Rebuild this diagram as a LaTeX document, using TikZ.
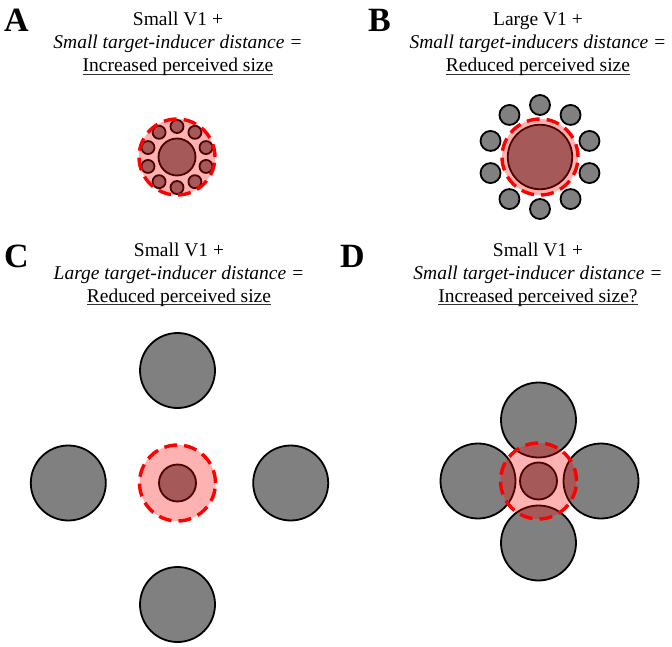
\documentclass[tikz,border=0pt]{standalone}
\usepackage{fontspec}
\setmainfont{Liberation Serif}
\usepackage{tikz}
\usetikzlibrary{calc,positioning}
\newcommand{\undl}[1]{\leavevmode\setbox0\hbox{#1}\rlap{\color{black!80}\rule[-2.6pt]{\wd0}{1pt}}\box0}
\tikzstyle{inducer} = [circle, draw=black, fill=black!50, line width=1.8pt, inner sep=0pt]
\tikzstyle{target} = [circle, draw=black, fill=black!50, line width=1.8pt, inner sep=0pt, minimum size=37pt]
\tikzstyle{percept} = [circle, draw=red, fill=red, fill opacity=0.3, draw opacity=1, line width=3.4pt, dash pattern=on 13pt off 7pt, inner sep=0pt, minimum size=76pt]
\tikzstyle{title} = [align=center, anchor=base, inner sep=0pt, font=\fontsize{19.5}{23}\selectfont]
\tikzstyle{letter} = [anchor=base west, inner sep=0pt, font=\fontsize{34}{34}\selectfont\bfseries]

\begin{document}
\begin{tikzpicture}[x=1pt,y=-1pt]
\useasboundingbox (0,0) rectangle (672,647);
% panel labels
\node (lA)[letter] at (4,32) {A};
\node (lB)[letter] at (368,32) {B};
\node (lC)[letter] at (4,267) {C};
\node (lD)[letter] at (340,267) {D};
% titles
\node (hA)[title] at (178,72) {Small V1 +\\ \textit{Small target-inducer distance =}\\ \undl{Increased perceived size}};
\node (hB)[title] at (538,72) {Large V1 +\\ \textit{Small target-inducers distance =}\\ \undl{Reduced perceived size}};
\node (hC)[title] at (179,302) {Small V1 +\\ \textit{Large target-inducer distance =}\\ \undl{Reduced perceived size}};
\node (hD)[title] at (538,302) {Small V1 +\\ \textit{Small target-inducer distance =}\\ \undl{Increased perceived size?}};
% A: small target, small close inducers
\foreach \i in {0,...,9}
  \node (iA\i)[inducer, minimum size=13pt] at ($(177,157)+(90+36*\i:30.5)$) {};
\node (tA)[target] at (177,157) {};
\node (pA)[percept] at (tA) {};
% B: large target, small close inducers
\foreach \i in {0,...,9}
  \node (iB\i)[inducer, minimum size=20pt] at ($(540,157)+(90+36*\i:52)$) {};
\node (tB)[target, minimum size=64.5pt] at (540,157) {};
\node (pB)[percept] at (tB) {};
% C: small target, large far inducers
\foreach \n/\x/\y in {1/177.5/370.5, 2/68.3/483, 3/290.7/483, 4/177.5/604.5}
  \node (iC\n)[inducer, minimum size=75pt] at (\x,\y) {};
\node (tC)[target] at (177.5,483) {};
\node (pC)[percept] at (tC) {};
% D: small target, large close inducers
\foreach \n/\x/\y in {1/538.5/420, 2/478/481, 3/601/481, 4/538.5/543}
  \node (iD\n)[inducer, minimum size=75pt] at (\x,\y) {};
\node (tD)[target] at (538.5,481) {};
\node (pD)[percept] at (tD) {};
\end{tikzpicture}
\end{document}
